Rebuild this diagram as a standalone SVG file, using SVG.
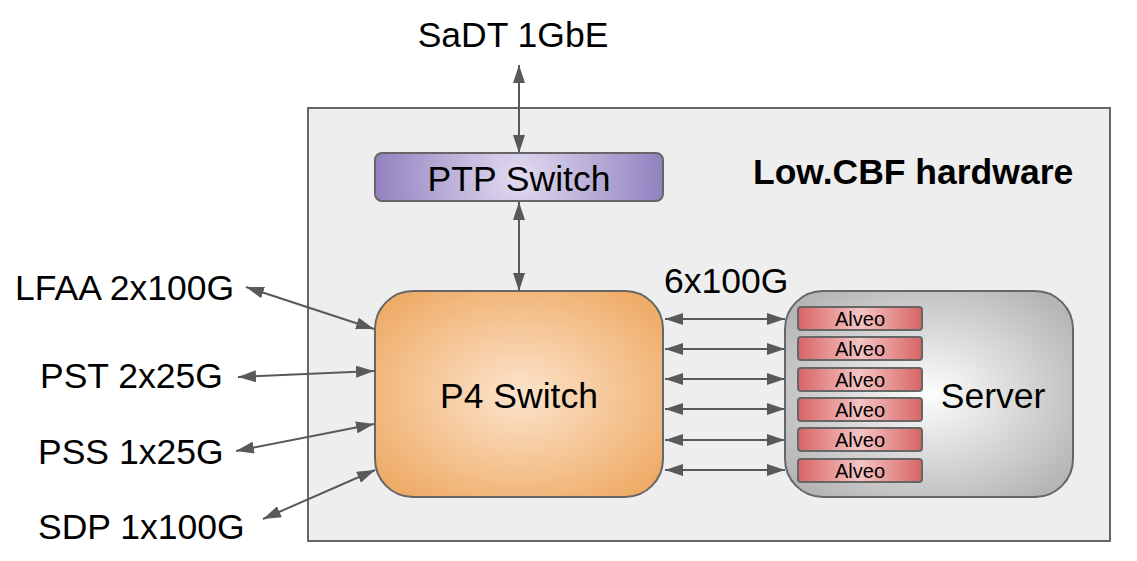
<svg xmlns="http://www.w3.org/2000/svg" width="1137" height="561" viewBox="0 0 1137 561">
<style>
.lbl{font-family:"Liberation Sans",Arial,sans-serif;font-size:35.5px;fill:#000}
.big{font-family:"Liberation Sans",Arial,sans-serif;font-size:35.5px;fill:#000;text-anchor:middle}
.bold{font-family:"Liberation Sans",Arial,sans-serif;font-size:35.5px;font-weight:bold;fill:#000}
.alv{font-family:"Liberation Sans",Arial,sans-serif;font-size:20px;fill:#000;text-anchor:middle}
.conn line{stroke:#595959;stroke-width:2;marker-start:url(#ah);marker-end:url(#ah)}
.abox{fill:url(#gAlv);stroke:#666;stroke-width:2}
</style>
<defs>
<marker id="ah" markerUnits="userSpaceOnUse" markerWidth="18" markerHeight="12" viewBox="0 0 18 12" refX="18" refY="6" orient="auto-start-reverse">
<path d="M0,0 L18,6 L0,12 Z" fill="#595959"/>
</marker>
<radialGradient id="gPtp" cx="0.5" cy="0.5" r="0.5" gradientTransform="translate(0.5 0.5) scale(1 6) translate(-0.5 -0.5)">
<stop offset="0" stop-color="#e2dcf0"/>
<stop offset="1" stop-color="#9282c0"/>
</radialGradient>
<radialGradient id="gP4" cx="0.5" cy="0.5" r="0.62">
<stop offset="0" stop-color="#fce4cc"/>
<stop offset="1" stop-color="#efac68"/>
</radialGradient>
<radialGradient id="gSrv" cx="0.5" cy="0.5" r="0.62">
<stop offset="0" stop-color="#fdfdfd"/>
<stop offset="1" stop-color="#b5b5b5"/>
</radialGradient>
<linearGradient id="gAlv" x1="0" y1="0" x2="1" y2="0">
<stop offset="0" stop-color="#d96464"/>
<stop offset="0.5" stop-color="#f4c4c4"/>
<stop offset="1" stop-color="#d96464"/>
</linearGradient>
</defs>
<rect width="1137" height="561" fill="#fff"/>
<g id="hardware">
<rect x="308" y="108" width="802" height="433" fill="#eeeeee" stroke="#666" stroke-width="2"/>
<text class="bold" x="753" y="184">Low.CBF hardware</text>
</g>
<g id="sadt"><text class="big" x="513" y="47">SaDT 1GbE</text></g>
<g id="lfaa"><text class="lbl" x="15" y="300">LFAA 2x100G</text></g>
<g id="pst"><text class="lbl" x="40" y="388">PST 2x25G</text></g>
<g id="pss"><text class="lbl" x="38" y="464">PSS 1x25G</text></g>
<g id="sdp"><text class="lbl" x="38" y="539">SDP 1x100G</text></g>
<g id="ptp">
<rect x="375" y="153" width="288" height="48" rx="7" fill="url(#gPtp)" stroke="#666" stroke-width="2"/>
<text class="big" x="519" y="191">PTP Switch</text>
</g>
<g id="p4">
<rect x="375" y="291" width="288" height="206" rx="38" fill="url(#gP4)" stroke="#666" stroke-width="2"/>
<text class="big" x="519" y="408">P4 Switch</text>
</g>
<g id="server">
<rect x="785" y="291" width="288" height="206" rx="38" fill="url(#gSrv)" stroke="#666" stroke-width="2"/>
<text class="big" x="993" y="408">Server</text>
</g>
<g id="alveo1"><rect class="abox" x="798" y="307" width="124" height="23" rx="3"/><text class="alv" x="860" y="326">Alveo</text></g>
<g id="alveo2"><rect class="abox" x="798" y="337" width="124" height="23" rx="3"/><text class="alv" x="860" y="356">Alveo</text></g>
<g id="alveo3"><rect class="abox" x="798" y="368" width="124" height="23" rx="3"/><text class="alv" x="860" y="387">Alveo</text></g>
<g id="alveo4"><rect class="abox" x="798" y="398" width="124" height="23" rx="3"/><text class="alv" x="860" y="417">Alveo</text></g>
<g id="alveo5"><rect class="abox" x="798" y="428" width="124" height="23" rx="3"/><text class="alv" x="860" y="447">Alveo</text></g>
<g id="alveo6"><rect class="abox" x="798" y="459" width="124" height="23" rx="3"/><text class="alv" x="860" y="478">Alveo</text></g>
<g id="connectors" class="conn">
<line x1="519" y1="65" x2="519" y2="153"/>
<line x1="519" y1="202" x2="519" y2="291"/>
<line x1="246" y1="287" x2="374" y2="329"/>
<line x1="238" y1="377" x2="374" y2="371"/>
<line x1="236" y1="451" x2="374" y2="424"/>
<line x1="263" y1="519" x2="375" y2="470"/>
<line x1="665" y1="319" x2="785" y2="319"/>
<line x1="665" y1="349" x2="785" y2="349"/>
<line x1="665" y1="379" x2="785" y2="379"/>
<line x1="665" y1="409" x2="785" y2="409"/>
<line x1="665" y1="440" x2="785" y2="440"/>
<line x1="665" y1="470" x2="785" y2="470"/>
</g>
<text class="lbl" x="664" y="293">6x100G</text>
</svg>
